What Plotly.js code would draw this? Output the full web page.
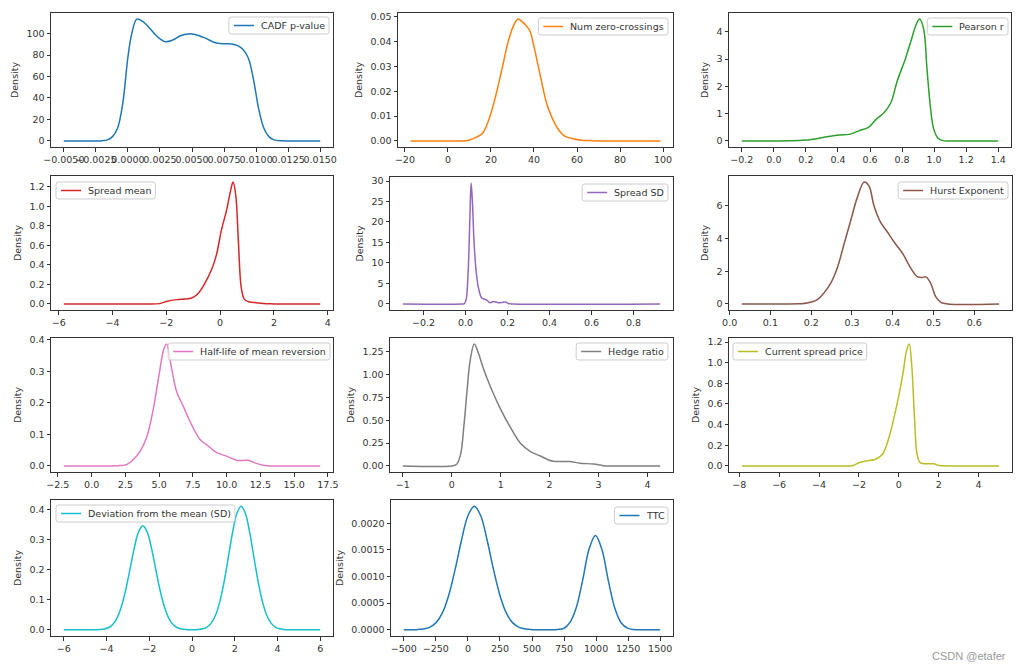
<!DOCTYPE html>
<html>
<head>
<meta charset="utf-8">
<script src="https://cdn.plot.ly/plotly-3.0.1.min.js"></script>
<style>
html,body{margin:0;padding:0;background:#ffffff;}
#chart{width:1024px;height:670px;}
</style>
</head>
<body>
<div id="chart"></div>
<script>
// ---------------- DATA ----------------
const seriesNames = ["CADF p-value","Num zero-crossings","Pearson r","Spread mean","Spread SD",
  "Hurst Exponent","Half-life of mean reversion","Hedge ratio","Current spread price",
  "Deviation from the mean (SD)","TTC"];

const cadfX = [-0.005,-0.003,-0.002,-0.0016,-0.0012,-0.0008,-0.0004,0.0,0.0003,0.0007,0.0012,0.0017,0.0023,0.0029,0.0035,0.0041,0.0047,0.0053,0.0060,0.0067,0.0074,0.0081,0.0086,0.0090,0.0094,0.0098,0.0102,0.0106,0.0110,0.0114,0.0120,0.0130,0.0150];
const cadfY = [0,0,0.2,1,4,12,35,78,100,113.5,111,105,97,92.5,94,98,99.7,99,96,92,90.5,90.3,88.5,85,77,57,30,12,4,1,0.1,0,0];

const zeroX = [-17.4,0,8,10,13,16,19,22,25,28,30.5,32.6,34.5,36,38,40,43,46,49,52,54.5,58,62,67,75,98.8];
const zeroY = [0,0,0.0001,0.0004,0.0014,0.003,0.0085,0.0175,0.0285,0.040,0.0465,0.0491,0.048,0.0468,0.0445,0.038,0.026,0.0148,0.0082,0.0038,0.0018,0.0009,0.0003,0.0001,0,0];

const pearX = [-0.2,0.1,0.2,0.24,0.32,0.41,0.47,0.53,0.59,0.64,0.69,0.73,0.77,0.82,0.86,0.89,0.91,0.935,0.955,0.976,0.997,1.024,1.055,1.1,1.4];
const pearY = [0,0.005,0.03,0.06,0.14,0.22,0.24,0.37,0.5,0.8,1.05,1.4,2.2,3.0,3.75,4.3,4.47,4.1,2.7,1.3,0.45,0.1,0.01,0,0];

const smeanX = [-5.81,-3,-2.25,-2.0,-1.62,-1.31,-1.06,-0.81,-0.57,-0.32,-0.14,0.05,0.23,0.38,0.48,0.58,0.68,0.79,0.91,1.1,1.35,1.6,2.0,3.72];
const smeanY = [0,0,0.003,0.025,0.044,0.05,0.06,0.11,0.21,0.35,0.5,0.76,0.95,1.15,1.25,1.12,0.64,0.16,0.044,0.02,0.012,0.003,0,0];

const ssdX = [-0.298,-0.02,-0.005,0.003,0.013,0.021,0.027,0.033,0.041,0.051,0.062,0.078,0.1,0.117,0.133,0.157,0.19,0.205,0.23,0.927];
const ssdY = [0,0,0.1,1,8,20.8,29.5,25,15,7.9,3.9,1.45,1.0,0.3,0.6,0.3,0.45,0.1,0,0];

const hurstX = [0.03,0.17,0.19,0.215,0.231,0.248,0.264,0.28,0.297,0.313,0.33,0.342,0.354,0.37,0.387,0.403,0.424,0.444,0.46,0.472,0.481,0.493,0.505,0.518,0.534,0.661];
const hurstY = [0,0.01,0.05,0.26,0.66,1.27,2.2,3.6,5.1,6.5,7.45,7.2,6.0,5.0,4.4,3.8,3.1,2.2,1.67,1.62,1.65,1.27,0.46,0.1,0,0];

const halfX = [-2.06,1.5,2.13,2.62,3.11,3.6,4.1,4.58,5.03,5.32,5.55,5.93,6.3,6.8,7.41,8.03,8.64,9.26,10.0,10.73,11.2,11.6,12.2,12.84,13.5,16.93];
const halfY = [0,0,0.001,0.005,0.021,0.047,0.094,0.183,0.298,0.366,0.386,0.308,0.235,0.188,0.13,0.084,0.063,0.042,0.031,0.018,0.017,0.018,0.008,0.001,0,0];

const hedgeX = [-1.0,0.0,0.1,0.18,0.25,0.31,0.375,0.46,0.54,0.65,0.78,0.99,1.19,1.4,1.6,1.81,1.98,2.08,2.25,2.42,2.62,2.9,3.1,3.3,4.26];
const hedgeY = [0,0,0.018,0.126,0.45,0.81,1.15,1.333,1.24,1.06,0.88,0.63,0.43,0.25,0.16,0.108,0.065,0.05,0.048,0.047,0.03,0.02,0.003,0,0];

const priceX = [-7.87,-3,-2.33,-2.0,-1.58,-1.17,-0.83,-0.5,-0.25,0,0.22,0.38,0.52,0.65,0.78,0.92,1.08,1.42,1.75,2.0,2.4,5.03];
const priceY = [0,0,0.002,0.03,0.05,0.065,0.11,0.27,0.46,0.68,0.91,1.11,1.18,0.97,0.49,0.11,0.03,0.02,0.02,0.005,0,0];

const devX = [-6,-5,-4.6,-4.3,-4.1,-3.9,-3.7,-3.5,-3.3,-3.1,-2.9,-2.7,-2.5,-2.3,-2.1,-1.9,-1.7,-1.5,-1.3,-1.1,-0.9,-0.7,-0.5,-0.3,0,0.3,0.5,0.7,0.9,1.1,1.3,1.5,1.7,1.9,2.1,2.3,2.5,2.7,2.9,3.1,3.3,3.5,3.7,3.9,4.1,4.3,4.6,5,6];
const devY = [0,0,0.0002,0.0009,0.0028,0.0077,0.0187,0.0406,0.078,0.133,0.202,0.272,0.325,0.345,0.325,0.272,0.202,0.133,0.078,0.0406,0.0187,0.0077,0.0028,0.001,0.0004,0.0011,0.0033,0.0091,0.0223,0.0482,0.0927,0.158,0.240,0.323,0.386,0.41,0.386,0.323,0.24,0.158,0.0927,0.0482,0.0223,0.0091,0.0033,0.0011,0.0002,0,0];

const ttcX = [-500,-400,-350,-300,-250,-200,-150,-100,-50,0,50,100,150,200,250,300,350,400,450,500,600,650,700,750,795,845,895,945,995,1045,1095,1145,1195,1245,1295,1345,1400,1500];
const ttcY = [0,0.0000035,0.000014,0.000046,0.00013,0.000313,0.000645,0.00113,0.00168,0.00214,0.00232,0.00214,0.00168,0.00113,0.000645,0.000313,0.00013,0.000046,0.000014,0.0000035,0,0.0000007,0.000006,0.00003,0.000134,0.000414,0.000928,0.00151,0.00177,0.00151,0.000928,0.000414,0.000134,0.0000313,0.0000053,0.0000007,0,0];

// tick values and labels
const xTickVals = [
  [-0.005,-0.0025,0,0.0025,0.005,0.0075,0.01,0.0125,0.015],
  [-20,0,20,40,60,80,100],
  [-0.2,0,0.2,0.4,0.6,0.8,1.0,1.2,1.4],
  [-6,-4,-2,0,2,4],
  [-0.2,0,0.2,0.4,0.6,0.8],
  [0,0.1,0.2,0.3,0.4,0.5,0.6],
  [-2.5,0,2.5,5,7.5,10,12.5,15,17.5],
  [-1,0,1,2,3,4],
  [-8,-6,-4,-2,0,2,4],
  [-6,-4,-2,0,2,4,6],
  [-500,-250,0,250,500,750,1000,1250,1500]
];
const xTickText = [
  ["−0.0050","−0.0025","0.0000","0.0025","0.0050","0.0075","0.0100","0.0125","0.0150"],
  ["−20","0","20","40","60","80","100"],
  ["−0.2","0.0","0.2","0.4","0.6","0.8","1.0","1.2","1.4"],
  ["−6","−4","−2","0","2","4"],
  ["−0.2","0.0","0.2","0.4","0.6","0.8"],
  ["0.0","0.1","0.2","0.3","0.4","0.5","0.6"],
  ["−2.5","0.0","2.5","5.0","7.5","10.0","12.5","15.0","17.5"],
  ["−1","0","1","2","3","4"],
  ["−8","−6","−4","−2","0","2","4"],
  ["−6","−4","−2","0","2","4","6"],
  ["−500","−250","0","250","500","750","1000","1250","1500"]
];
const yTickVals = [
  [0,20,40,60,80,100],
  [0,0.01,0.02,0.03,0.04,0.05],
  [0,1,2,3,4],
  [0,0.2,0.4,0.6,0.8,1.0,1.2],
  [0,5,10,15,20,25,30],
  [0,2,4,6],
  [0,0.1,0.2,0.3,0.4],
  [0,0.25,0.5,0.75,1.0,1.25],
  [0,0.2,0.4,0.6,0.8,1.0,1.2],
  [0,0.1,0.2,0.3,0.4],
  [0,0.0005,0.001,0.0015,0.002]
];
const yTickText = [
  ["0","20","40","60","80","100"],
  ["0.00","0.01","0.02","0.03","0.04","0.05"],
  ["0","1","2","3","4"],
  ["0.0","0.2","0.4","0.6","0.8","1.0","1.2"],
  ["0","5","10","15","20","25","30"],
  ["0","2","4","6"],
  ["0.0","0.1","0.2","0.3","0.4"],
  ["0.00","0.25","0.50","0.75","1.00","1.25"],
  ["0.0","0.2","0.4","0.6","0.8","1.0","1.2"],
  ["0.0","0.1","0.2","0.3","0.4"],
  ["0.0000","0.0005","0.0010","0.0015","0.0020"]
];

const seriesData = [[cadfX,cadfY],[zeroX,zeroY],[pearX,pearY],[smeanX,smeanY],[ssdX,ssdY],
  [hurstX,hurstY],[halfX,halfY],[hedgeX,hedgeY],[priceX,priceY],[devX,devY],[ttcX,ttcY]];

// ---------------- STYLE / LAYOUT ----------------
const colors = ["#1f77b4","#ff7f0e","#2ca02c","#d62728","#9467bd","#8c564b","#e377c2","#7f7f7f","#bcbd22","#17becf","#1f77b4"];
const W = 1024, H = 670;
// axes boxes in pixels: [left, top, right, bottom]
const boxes = [
  [51,13,333,147],[398,13,673,147],[729,13,1011,147],
  [51,176,333,310],[390,177,673,310],[729,176,1012,310],
  [51,338,333,472],[390,338,673,472],[729,338,1012,472],
  [51,500,333,636],[391,500,673,636]
];
// legend box anchor: [x px, top px, 'left'|'right']
const legendPos = [
  [329,17,"right"],[668,18,"right"],[1008,18,"right"],
  [56,182,"left"],[668,184,"right"],[1008,182,"right"],
  [330,343,"right"],[668,343,"right"],[733,343,"left"],
  [56,505,"left"],[668,507,"right"]
];

const textColor = "#333333";
const fontFam = "DejaVu Sans, sans-serif";
const fontSize = 9.5;

// text measurement for legend box sizes
const cvs = document.createElement("canvas");
const ctx = cvs.getContext("2d");
ctx.font = fontSize + "px 'DejaVu Sans'";

const px = v => v / W;
const py = v => 1 - v / H;

function roundRectPath(l, t, r, b, rad) {
  // in pixel coords -> paper coords path
  const P = (x, y) => px(x).toFixed(5) + "," + py(y).toFixed(5);
  return "M" + P(l + rad, t) + " L" + P(r - rad, t) + " Q" + P(r, t) + " " + P(r, t + rad) +
    " L" + P(r, b - rad) + " Q" + P(r, b) + " " + P(r - rad, b) +
    " L" + P(l + rad, b) + " Q" + P(l, b) + " " + P(l, b - rad) +
    " L" + P(l, t + rad) + " Q" + P(l, t) + " " + P(l + rad, t) + " Z";
}

const traces = [];
const shapes = [];
const annotations = [{
  text: "CSDN @etafer", xref: "paper", yref: "paper",
  x: px(1008), y: py(656), xanchor: "right", yanchor: "middle",
  showarrow: false, font: {family: "Liberation Sans, Arial, sans-serif", size: 11, color: "#9a9a9a"}
}];
const layout = {
  width: W, height: H,
  margin: {l:0, r:0, t:0, b:0},
  paper_bgcolor: "#ffffff",
  plot_bgcolor: "#ffffff",
  font: {family: fontFam, size: fontSize, color: textColor},
  showlegend: false
};

seriesData.forEach((s, i) => {
  const [xs, ys] = s;
  const n = i === 0 ? "" : String(i + 1);
  traces.push({
    type: "scatter", mode: "lines",
    x: xs, y: ys, name: seriesNames[i],
    xaxis: "x" + n, yaxis: "y" + n,
    line: {color: colors[i], width: 1.5, shape: "spline", smoothing: 1},
    hoverinfo: "x+y+name"
  });
  const xmin = Math.min(...xs), xmax = Math.max(...xs);
  const ymin = Math.min(...ys), ymax = Math.max(...ys);
  const xs5 = (xmax - xmin) * 0.05, ys5 = (ymax - ymin) * 0.05;
  const b = boxes[i];
  const axCommon = {
    showline: true, mirror: true, linecolor: textColor, linewidth: 1,
    ticks: "outside", ticklen: 3.5, tickwidth: 1, tickcolor: textColor,
    showgrid: false, zeroline: false, tickangle: 0,
    tickfont: {family: fontFam, size: fontSize, color: textColor},
    tickmode: "array", fixedrange: true
  };
  layout["xaxis" + n] = Object.assign({}, axCommon, {
    domain: [px(b[0]), px(b[2])],
    anchor: "y" + n,
    range: [xmin - xs5, xmax + xs5],
    tickvals: xTickVals[i], ticktext: xTickText[i]
  });
  layout["yaxis" + n] = Object.assign({}, axCommon, {
    domain: [py(b[3]), py(b[1])],
    anchor: "x" + n,
    range: [ymin - ys5, ymax + ys5],
    tickvals: yTickVals[i], ticktext: yTickText[i],
    title: {text: "Density", font: {family: fontFam, size: fontSize, color: textColor}, standoff: 6}
  });

  // legend box (matplotlib style)
  const lp = legendPos[i];
  const tw = ctx.measureText(seriesNames[i]).width;
  const bw = 31 + tw + 5, bh = 17;
  const L = lp[2] === "left" ? lp[0] : lp[0] - bw;
  const T = lp[1];
  shapes.push({
    type: "path", xref: "paper", yref: "paper", layer: "above",
    path: roundRectPath(L, T, L + bw, T + bh, 2.5),
    fillcolor: "rgba(255,255,255,0.8)",
    line: {color: "#cccccc", width: 1}
  });
  shapes.push({
    type: "line", xref: "paper", yref: "paper", layer: "above",
    x0: px(L + 5), x1: px(L + 25), y0: py(T + bh / 2), y1: py(T + bh / 2),
    line: {color: colors[i], width: 1.5}
  });
  annotations.push({
    text: seriesNames[i], xref: "paper", yref: "paper",
    x: px(L + 31), y: py(T + bh / 2), xanchor: "left", yanchor: "middle",
    showarrow: false, borderpad: 0,
    font: {family: fontFam, size: fontSize, color: textColor}
  });
});

layout.shapes = shapes;
layout.annotations = annotations;

Plotly.newPlot("chart", traces, layout, {displayModeBar: false, responsive: false});
</script>
</body>
</html>
